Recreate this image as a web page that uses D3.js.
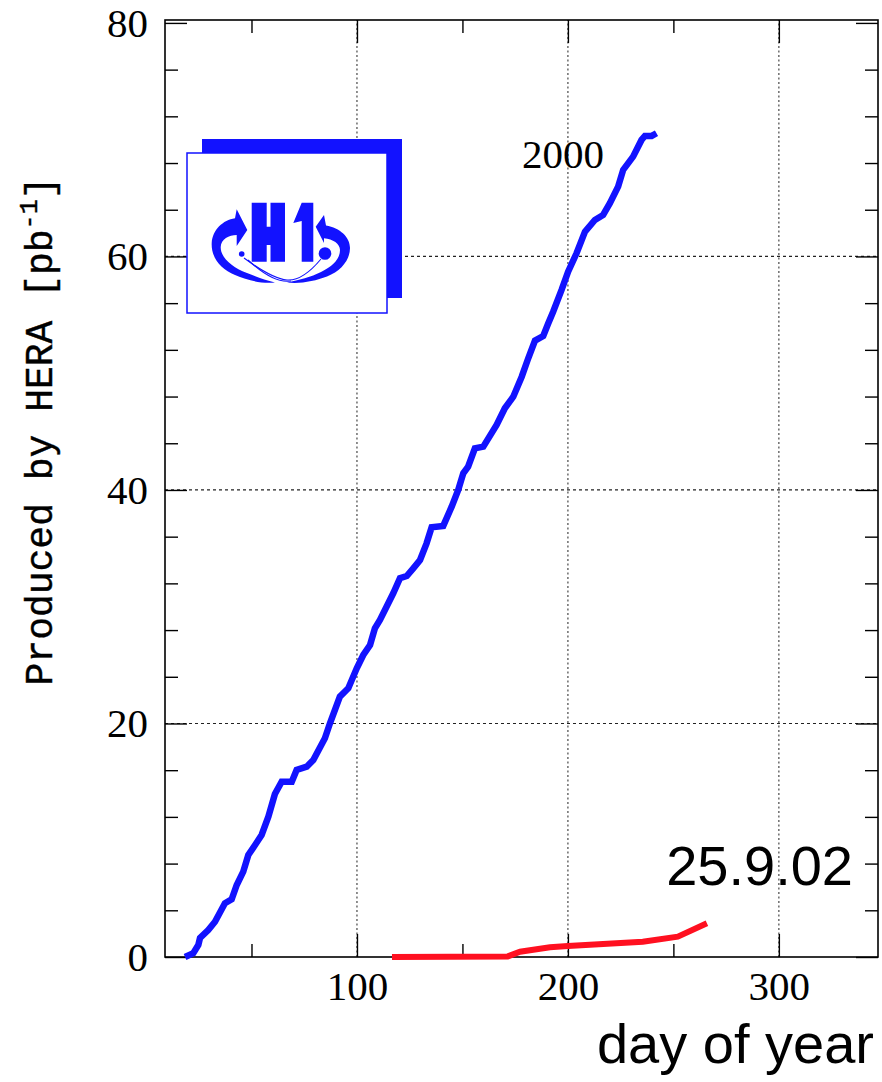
<!DOCTYPE html>
<html>
<head>
<meta charset="utf-8">
<script src="https://cdn.jsdelivr.net/npm/d3@7"></script>
<style>
  html, body { margin: 0; padding: 0; background: #fff; }
  svg { display: block; }
</style>
</head>
<body>
<svg id="chart" width="882" height="1082"></svg>
<script>
// Integrated luminosity produced by HERA, year 2000 (blue) and 2002 up to 25.9.02 (red)
const days2000 = [18.5, 22.4, 24.8, 25.6, 29.5, 32.7, 37.4, 40.6, 43.0, 46.1, 48.5, 51.7, 54.8, 58.0,
  61.1, 64.3, 69.1, 71.4, 76.2, 79.3, 84.8, 87.2, 91.9, 95.9, 99.9, 103.0, 106.2, 108.5, 110.9,
  117.2, 120.4, 123.6, 126.7, 129.9, 133.0, 135.4, 140.9, 144.9, 148.0, 150.4, 152.7, 155.9,
  159.9, 166.2, 170.1, 174.1, 178.1, 181.2, 184.4, 188.3, 190.7, 193.0, 197.0, 200.1, 204.1,
  208.1, 212.8, 216.7, 219.9, 223.8, 226.2, 230.9, 234.9, 236.5, 239.7, 242.0];
const lumi2000 = [0.0, 0.32, 1.03, 1.63, 2.31, 3.02, 4.6, 4.94, 6.17, 7.31, 8.74, 9.59, 10.45, 12.02,
  13.96, 15.02, 15.02, 16.02, 16.3, 16.87, 18.73, 20.02, 22.3, 23.02, 24.73, 25.87, 26.72, 28.15, 28.87,
  31.15, 32.44, 32.63, 33.29, 34.0, 35.43, 36.8, 36.92, 38.57, 40.0, 41.43, 42.0, 43.57,
  43.71, 45.57, 47.0, 47.99, 49.7, 51.28, 52.79, 53.19, 54.28, 55.27, 57.13, 58.7, 60.27,
  62.12, 63.12, 63.55, 64.56, 65.98, 67.41, 68.55, 69.98, 70.32, 70.32, 70.55];

const days2002 = [116.6, 171.5, 177.3, 191.5, 200.0, 235.5, 252.1, 265.9];
const lumi2002 = [0.0, 0.05, 0.45, 0.83, 0.94, 1.31, 1.74, 2.89];

const xMajorTicks = [100, 200, 300];
const xMinorTicks = [50, 150, 250];
const yMajorTicks = [0, 20, 40, 60, 80];
const yMinorTicks = [4, 8, 12, 16, 24, 28, 32, 36, 44, 48, 52, 56, 64, 68, 72, 76];
const xGrid = [100, 200, 300];
const yGrid = [20, 40, 60];

const xTitle = "day of year";
const yTitle = "Produced by HERA [pb";
const yTitleSup = "-1";
const yearLabel = "2000";
const dateLabel = "25.9.02";

const svg = d3.select("#chart");
const plotLeft = 165, plotRight = 878, plotTop = 20, plotBottom = 957;

const x = d3.scaleLinear().domain([9, 347]).range([plotLeft, plotRight]);
const y = d3.scaleLinear().domain([0, 80.25]).range([plotBottom, plotTop]);

const serif = "'Liberation Serif', 'Times New Roman', serif";
const sans = "'Liberation Sans', Arial, Helvetica, sans-serif";
const mono = "'Liberation Mono', 'Courier New', monospace";

// dotted grid
svg.append("g").selectAll("line").data(xGrid).join("line")
  .attr("x1", d => x(d)).attr("x2", d => x(d))
  .attr("y1", plotBottom).attr("y2", plotTop)
  .attr("stroke", "#555").attr("stroke-width", 1.3).attr("stroke-dasharray", "2,2.5");
svg.append("g").selectAll("line").data(yGrid).join("line")
  .attr("x1", plotLeft).attr("x2", plotRight)
  .attr("y1", d => y(d)).attr("y2", d => y(d))
  .attr("stroke", "#222").attr("stroke-width", 1.2).attr("stroke-dasharray", "3,3");

// frame with inward ticks on all four sides
function styleAxis(g) {
  g.selectAll(".domain").remove();
  g.selectAll(".tick line").attr("stroke", "#000").attr("stroke-width", 1.4);
  g.selectAll("text").attr("font-family", serif).attr("font-size", 41).attr("fill", "#000");
}
svg.append("g").attr("transform", `translate(${plotLeft},0)`)
  .call(d3.axisLeft(y).tickValues(yMajorTicks).tickFormat(d3.format("d"))
    .tickSizeInner(-22).tickSizeOuter(0).tickPadding(17))
  .call(styleAxis);
svg.append("g").attr("transform", `translate(${plotLeft},0)`)
  .call(d3.axisLeft(y).tickValues(yMinorTicks).tickFormat("").tickSizeInner(-13).tickSizeOuter(0))
  .call(styleAxis);
svg.append("g").attr("transform", `translate(${plotRight},0)`)
  .call(d3.axisRight(y).tickValues(yMajorTicks).tickFormat("").tickSizeInner(-22).tickSizeOuter(0))
  .call(styleAxis);
svg.append("g").attr("transform", `translate(${plotRight},0)`)
  .call(d3.axisRight(y).tickValues(yMinorTicks).tickFormat("").tickSizeInner(-13).tickSizeOuter(0))
  .call(styleAxis);

svg.append("g").attr("transform", `translate(0,${plotBottom})`)
  .call(d3.axisBottom(x).tickValues(xMajorTicks).tickFormat(d3.format("d"))
    .tickSizeInner(-23).tickSizeOuter(0).tickPadding(14))
  .call(styleAxis);
svg.append("g").attr("transform", `translate(0,${plotBottom})`)
  .call(d3.axisBottom(x).tickValues(xMinorTicks).tickFormat("").tickSizeInner(-13).tickSizeOuter(0))
  .call(styleAxis);
svg.append("g").attr("transform", `translate(0,${plotTop})`)
  .call(d3.axisTop(x).tickValues(xMajorTicks).tickFormat("").tickSizeInner(-23).tickSizeOuter(0))
  .call(styleAxis);
svg.append("g").attr("transform", `translate(0,${plotTop})`)
  .call(d3.axisTop(x).tickValues(xMinorTicks).tickFormat("").tickSizeInner(-13).tickSizeOuter(0))
  .call(styleAxis);

svg.append("rect")
  .attr("x", plotLeft).attr("y", plotTop)
  .attr("width", plotRight - plotLeft).attr("height", plotBottom - plotTop)
  .attr("fill", "none").attr("stroke", "#000").attr("stroke-width", 1.6);

// H1 logo
const logo = svg.append("g").attr("transform", "translate(187,153)");
const blue = "#1212ff";
logo.append("rect").attr("x", 15).attr("y", -14).attr("width", 200).attr("height", 159)
  .attr("fill", blue);
logo.append("rect").attr("x", 0).attr("y", 0).attr("width", 200).attr("height", 160)
  .attr("fill", "#fff").attr("stroke", blue).attr("stroke-width", 1.5);
// letters H and 1
logo.append("path").attr("fill", blue)
  .attr("d", "M64.7,49.7 H79.7 V73.7 H83.5 V49.7 H98 V108.7 H83.5 V92 H79.7 V108.7 H64.7 Z");
logo.append("path").attr("fill", blue)
  .attr("d", "M114.7,49.7 H126.3 V108.7 H114.7 V68 L106.3,70 Z");
logo.append("circle").attr("cx", 138).attr("cy", 100.5).attr("r", 6.3).attr("fill", blue);
logo.append("circle").attr("cx", 54.7).attr("cy", 101).attr("r", 2.8).attr("fill", blue);
// swirling arrows
logo.append("path").attr("fill", blue)
  .attr("d", "M49.7,56.3 L60.3,77 L49.7,93 L49.7,82 C42,82 34,86 33.7,94 C33.5,104 44,114 60,120 C70,124 78,127 88,129.5 C74,131 60,127 48,122 C34,116 24,105 24.7,90 C25.5,77 36,67 48,65.3 Z");
logo.append("path").attr("fill", blue)
  .attr("d", "M137,62 L128.7,73.7 L137,90 L137,85.3 C146,86 153,91 153,97 C153,106 146,113 134,119 C124,124 112,127 100,129.5 C114,131 128,128 140,123.5 C154,118 163,107 163,95 C163,84 153,75 139,72.5 Z");
// thin crossing loops
logo.append("path").attr("fill", "none").attr("stroke", blue).attr("stroke-width", 1.1)
  .attr("d", "M57,105 C72,116 88,126 100,127 C112,128 124,118 134,106");
logo.append("path").attr("fill", "none").attr("stroke", blue).attr("stroke-width", 1.1)
  .attr("d", "M61,107 C76,121 92,130 104,128");

// luminosity curves
const line = d3.line().x(d => x(d[0])).y(d => y(d[1]));
svg.append("path")
  .datum(days2000.map((d, i) => [d, lumi2000[i]]))
  .attr("d", line).attr("fill", "none").attr("stroke", blue)
  .attr("stroke-width", 6.5).attr("stroke-linejoin", "miter").attr("stroke-miterlimit", 2);
svg.append("path")
  .datum(days2002.map((d, i) => [d, lumi2002[i]]))
  .attr("d", line).attr("fill", "none").attr("stroke", "#ff1020")
  .attr("stroke-width", 6).attr("stroke-linejoin", "miter").attr("stroke-miterlimit", 2);

// labels
svg.append("text").attr("x", 563).attr("y", 168).attr("text-anchor", "middle")
  .attr("font-family", serif).attr("font-size", 41).text(yearLabel);
svg.append("text").attr("x", 853).attr("y", 885).attr("text-anchor", "end")
  .attr("font-family", sans).attr("font-size", 56).text(dateLabel);
svg.append("text").attr("x", 874).attr("y", 1063).attr("text-anchor", "end")
  .attr("font-family", sans).attr("font-size", 56).text(xTitle);

const yt = svg.append("text").attr("transform", "translate(52,431) rotate(-90)")
  .attr("text-anchor", "middle").attr("font-family", mono).attr("font-size", 38)
  .attr("stroke", "#000").attr("stroke-width", 0.4);
yt.append("tspan").text(yTitle);
yt.append("tspan").attr("font-size", 25).attr("dy", -15).text(yTitleSup);
yt.append("tspan").attr("dy", 15).text("]");
</script>
</body>
</html>
